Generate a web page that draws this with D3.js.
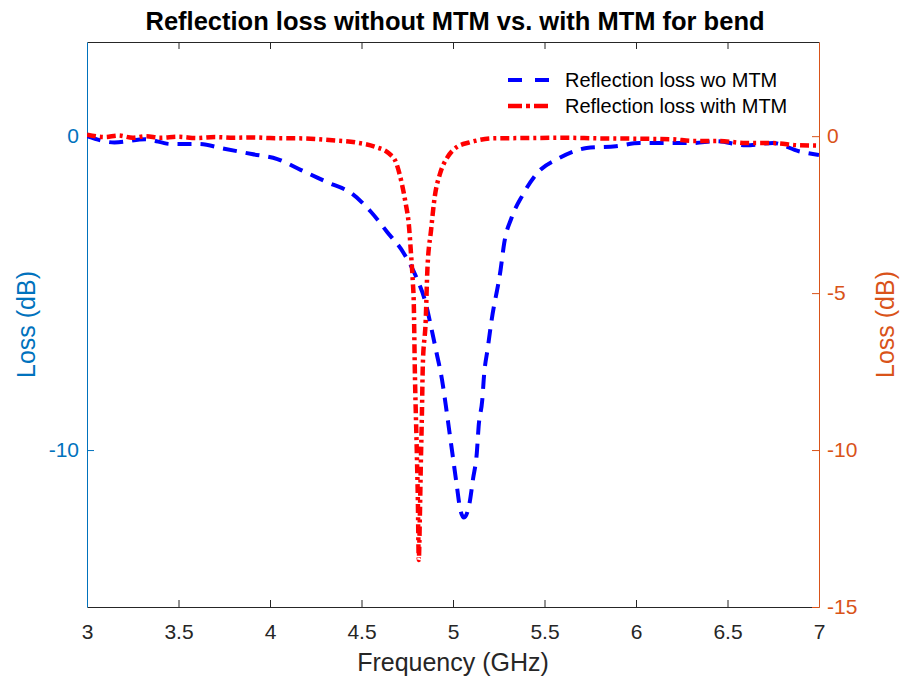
<!DOCTYPE html>
<html>
<head>
<meta charset="utf-8">
<script src="https://cdn.jsdelivr.net/npm/d3@7"></script>
<style>
  html, body { margin: 0; padding: 0; background: #fff; }
  svg { display: block; font-family: "Liberation Sans", Arial, Helvetica, sans-serif; }
</style>
</head>
<body>
<svg id="chart" width="909" height="678"></svg>
<script>
// Reflection loss without metamaterial (blue, left axis)
const freqWo = [3.00, 3.15, 3.32, 3.46, 3.61, 3.75, 3.90, 4.04, 4.17, 4.31, 4.45, 4.55, 4.64, 4.73,
  4.80, 4.85, 4.88, 4.91, 4.94, 4.96, 4.98, 5.00, 5.02, 5.04, 5.06, 5.09, 5.11, 5.13, 5.14, 5.16,
  5.17, 5.19, 5.21, 5.26, 5.28, 5.32, 5.38, 5.46, 5.58, 5.73, 5.89, 6.02, 6.17, 6.31, 6.44, 6.60,
  6.75, 6.89, 7.00];
const lossWo = [0, -0.2, -0.1, -0.25, -0.25, -0.4, -0.57, -0.73, -1.08, -1.46, -1.84, -2.4, -3.05, -3.72,
  -4.5, -5.3, -6.07, -6.9, -7.76, -8.55, -9.4, -10.25, -11.1, -11.9, -12.15, -11.7, -10.9, -10.1, -9.25, -8.4,
  -7.6, -6.75, -5.9, -4.26, -3.4, -2.6, -1.88, -1.18, -0.7, -0.38, -0.32, -0.22, -0.22, -0.22, -0.16, -0.29,
  -0.22, -0.48, -0.6];

// Reflection loss with metamaterial (red, right axis)
const freqWith = [3.00, 3.10, 3.17, 3.25, 3.32, 3.40, 3.50, 3.60, 3.70, 3.80, 3.90, 4.00, 4.16, 4.34,
  4.47, 4.58, 4.65, 4.69, 4.72, 4.74, 4.76, 4.77, 4.780, 4.786, 4.791, 4.802, 4.808, 4.813, 4.819,
  4.824, 4.830, 4.835, 4.851, 4.86, 4.88, 4.90, 4.93, 4.97, 5.02, 5.09, 5.22, 5.40, 5.60, 5.80,
  6.00, 6.20, 6.31, 6.45, 6.60, 6.75, 6.89, 7.00];
const lossWith = [0.05, -0.03, 0.02, -0.05, 0, -0.05, -0.02, -0.06, -0.03, -0.05, -0.04, -0.06, -0.07, -0.13,
  -0.2, -0.35, -0.55, -0.86, -1.5, -2.1, -2.9, -3.7, -4.6, -5.4, -7.3, -10.0, -11.6, -13.5, -12.1,
  -10.5, -8.9, -7.3, -5.85, -4.26, -3.0, -1.94, -1.18, -0.67, -0.35, -0.2, -0.07, -0.06, -0.05, -0.07,
  -0.08, -0.1, -0.15, -0.15, -0.22, -0.22, -0.29, -0.3];

const xTicks = [3, 3.5, 4, 4.5, 5, 5.5, 6, 6.5, 7];
const leftTicks = [0, -10];
const rightTicks = [0, -5, -10, -15];
const seriesNames = ["Reflection loss wo MTM", "Reflection loss with MTM"];

const W = 909, H = 678;
const margin = { top: 42, right: 90, bottom: 71, left: 87 };
const iw = W - margin.left - margin.right;
const ih = H - margin.top - margin.bottom;

const leftColor = "rgb(0,114,189)";
const rightColor = "rgb(217,83,25)";
const axisGray = "rgb(38,38,38)";

const svg = d3.select("#chart");
const g = svg.append("g").attr("transform", `translate(${margin.left},${margin.top})`);

const x = d3.scaleLinear().domain([3, 7]).range([0, iw]);
const yL = d3.scaleLinear().domain([-15, 3]).range([ih, 0]);
const yR = d3.scaleLinear().domain([-15, 3]).range([ih, 0]);

g.append("clipPath").attr("id", "plotClip")
  .append("rect").attr("width", iw).attr("height", ih);

// Axes
const tickFont = "21px";
const styleAxis = (sel, color) => {
  sel.select(".domain").attr("stroke", color).attr("stroke-width", 1);
  sel.selectAll(".tick line").attr("stroke", color);
  sel.selectAll(".tick text").attr("fill", color).style("font-size", tickFont)
    .style("font-family", "Liberation Sans, Arial, sans-serif");
};

const xAxis = g.append("g").attr("transform", `translate(0,${ih})`)
  .call(d3.axisBottom(x).tickValues(xTicks).tickFormat(d3.format("")).tickSizeInner(-7).tickSizeOuter(0).tickPadding(17));
styleAxis(xAxis, axisGray);

const xTop = g.append("g")
  .call(d3.axisTop(x).tickValues(xTicks).tickFormat("").tickSizeInner(-7).tickSizeOuter(0));
styleAxis(xTop, axisGray);
xTop.selectAll(".tick").filter(d => d === 3 || d === 7).remove();
xAxis.selectAll(".tick line").filter(d => d === 3 || d === 7).remove();

const yLeft = g.append("g")
  .call(d3.axisLeft(yL).tickValues(leftTicks).tickFormat(d3.format("")).tickSizeInner(-7).tickSizeOuter(0).tickPadding(8));
styleAxis(yLeft, leftColor);
yLeft.selectAll(".tick text").text(d => d < 0 ? "-" + Math.abs(d) : d);

const yRight = g.append("g").attr("transform", `translate(${iw},0)`)
  .call(d3.axisRight(yR).tickValues(rightTicks).tickFormat(d3.format("")).tickSizeInner(-7).tickSizeOuter(0).tickPadding(8));
styleAxis(yRight, rightColor);
yRight.selectAll(".tick text").text(d => d < 0 ? "-" + Math.abs(d) : d);

// Data lines
const plot = g.append("g").attr("clip-path", "url(#plotClip)");

const lineL = d3.line().x(d => x(d[0])).y(d => yL(d[1])).curve(d3.curveMonotoneX);
const lineR = d3.line().x(d => x(d[0])).y(d => yR(d[1])).curve(d3.curveMonotoneX);

const woData = freqWo.map((f, i) => [f, lossWo[i]]);
const withData = freqWith.map((f, i) => [f, lossWith[i]]);

plot.append("path").datum(woData)
  .attr("d", lineL).attr("fill", "none")
  .attr("stroke", "#0000ff").attr("stroke-width", 4)
  .attr("stroke-dasharray", "14,9");

plot.append("path").datum(withData)
  .attr("d", lineR).attr("fill", "none")
  .attr("stroke", "#ff0000").attr("stroke-width", 4.5)
  .attr("stroke-dasharray", "9,4,3,4");

// Legend
const legend = g.append("g").attr("transform", `translate(${508 - margin.left},${80 - margin.top})`);
const legendItems = [
  { name: seriesNames[0], color: "#0000ff", dash: "14,13", w: 4 },
  { name: seriesNames[1], color: "#ff0000", dash: "14,4,4,4", w: 4.5 }
];
legendItems.forEach((it, i) => {
  const row = legend.append("g").attr("transform", `translate(0,${i * 26})`);
  row.append("line").attr("x1", 0).attr("x2", 42).attr("y1", 0).attr("y2", 0)
    .attr("stroke", it.color).attr("stroke-width", it.w).attr("stroke-dasharray", it.dash);
  row.append("text").attr("x", 57).attr("y", 7).text(it.name)
    .style("font-size", "20px").attr("fill", "#000");
});

// Title and axis labels
svg.append("text").attr("x", 455).attr("y", 30).attr("text-anchor", "middle")
  .style("font-size", "25.5px").style("font-weight", "bold").attr("fill", "#000")
  .text("Reflection loss without MTM vs. with MTM for bend");

svg.append("text").attr("x", margin.left + iw / 2).attr("y", 671).attr("text-anchor", "middle")
  .style("font-size", "25px").attr("fill", axisGray)
  .text("Frequency (GHz)");

svg.append("text").attr("transform", `translate(35,${margin.top + ih / 2}) rotate(-90)`)
  .attr("text-anchor", "middle").style("font-size", "25px").attr("fill", leftColor)
  .text("Loss (dB)");

svg.append("text").attr("transform", `translate(894,${margin.top + ih / 2}) rotate(-90)`)
  .attr("text-anchor", "middle").style("font-size", "25px").attr("fill", rightColor)
  .text("Loss (dB)");
</script>
</body>
</html>
